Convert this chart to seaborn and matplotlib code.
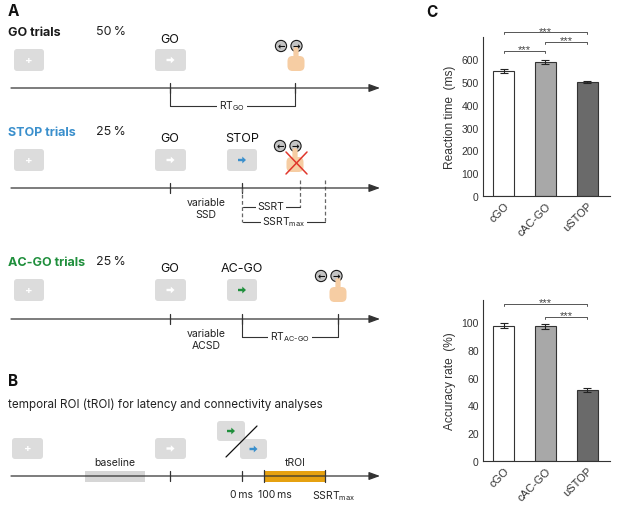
import matplotlib
matplotlib.use('Agg')
import matplotlib.pyplot as plt
import seaborn as sns
import numpy as np
import pandas as pd
from matplotlib.patches import FancyBboxPatch, Rectangle, Circle, Ellipse, Polygon

# ---------------- data ----------------
conditions = ['cGO', 'cAC-GO', 'uSTOP']
rt_mean = [550, 588, 500]
rt_sem = [8, 9, 6]
acc_mean = [97.5, 97.0, 51.0]
acc_sem = [1.6, 1.6, 1.6]
bar_colors = ['#ffffff', '#a8a8a8', '#6a6a6a']
rt_sig = [('cGO', 'cAC-GO', 636), ('cAC-GO', 'uSTOP', 676), ('cGO', 'uSTOP', 719)]
acc_sig = [('cAC-GO', 'uSTOP', 104), ('cGO', 'uSTOP', 113)]
trial_types = ['GO trials', 'STOP trials', 'AC-GO trials']
trial_pct = ['50\u2009%', '25\u2009%', '25\u2009%']
trial_colors = ['#1a1a1a', '#3a8fcc', '#1f8f3c']

sns.set_theme(style='white')
plt.rcParams['font.family'] = ['Inter', 'DejaVu Sans']
plt.rcParams['mathtext.fontset'] = 'custom'
plt.rcParams['mathtext.rm'] = 'Inter'
plt.rcParams['mathtext.it'] = 'Inter'

fig = plt.figure(figsize=(6.17, 5.06), dpi=100)

# ---------------- schematic (panels A, B) ----------------
sch = fig.add_axes([0, 0, 1, 1])
sch.set_xlim(0, 617)
sch.set_ylim(506, 0)
sch.axis('off')

LC = '#333333'
BOXC = '#dcdcdc'
BLUE = '#3a8fcc'
GREEN = '#1f8f3c'


def box(x0, x1, y0, y1, sym=None, color='white'):
    sch.add_patch(FancyBboxPatch((x0, y0), x1 - x0, y1 - y0,
                                 boxstyle='round,pad=0,rounding_size=3',
                                 fc=BOXC, ec='none', zorder=2))
    cx, cy = (x0 + x1) / 2, (y0 + y1) / 2
    if sym == '+':
        sch.text(cx, cy, '+', color='white', fontsize=8, ha='center', va='center',
                 fontweight='bold', zorder=3)
    elif sym == 'arrow':
        pts = [(cx - 4, cy - 1.2), (cx + 0.3, cy - 1.2), (cx + 0.3, cy - 3.4),
               (cx + 4, cy), (cx + 0.3, cy + 3.4), (cx + 0.3, cy + 1.2), (cx - 4, cy + 1.2)]
        sch.add_patch(Polygon(pts, closed=True, fc=color, ec='none', zorder=3))


def timeline(y):
    sch.annotate('', xy=(380, y), xytext=(11, y),
                 arrowprops=dict(arrowstyle='-|>,head_length=0.55,head_width=0.2',
                                 color=LC, lw=0.9, shrinkA=0, shrinkB=0))


def tick(x, y, half=5, dashed=False, y1=None):
    if dashed:
        sch.plot([x, x], [y - half, y1], color='#666666', lw=0.9, ls=(0, (3, 2)))
    else:
        sch.plot([x, x], [y - half, y + half], color=LC, lw=0.9)


def bracket(x0, x1, ytop, ybot, label, lx):
    sch.plot([x0, x0], [ytop, ybot], color=LC, lw=0.8)
    sch.plot([x1, x1], [ytop, ybot], color=LC, lw=0.8)
    sch.plot([x0, x1], [ybot, ybot], color=LC, lw=0.8)
    sch.text(lx, ybot - 0.5, label, fontsize=7.5, ha='center', va='center', color='#222',
             bbox=dict(fc='white', ec='none', pad=1.2), zorder=4)


def icons(x, y):
    for i, a in enumerate(['\u2190', '\u2192']):
        cx = x + i * 15.5
        sch.add_patch(Circle((cx, y), 5.6, fc='#c4c4c4', ec='#1a1a1a', lw=0.8, zorder=3))
        sch.text(cx, y, a, fontsize=6.5, ha='center', va='center', color='#111',
                 fontweight='bold', family=['DejaVu Sans'], zorder=4)


def hand(x, yb):
    skin = '#f6cda3'
    sch.add_patch(FancyBboxPatch((x - 2.6, yb - 24), 5.2, 14, boxstyle='round,pad=0,rounding_size=2.5',
                                 fc=skin, ec='none', zorder=3.5))
    sch.add_patch(FancyBboxPatch((x - 8.5, yb - 15), 17, 15, boxstyle='round,pad=0,rounding_size=5',
                                 fc=skin, ec='none', zorder=3.5))


# Panel A
sch.text(8, 11, 'A', fontsize=11, fontweight='bold', ha='left', va='center', color='#111')

rows = [
    dict(ty=33, ly=40, by=(50, 72), tl=89),
    dict(ty=133, ly=139, by=(150, 172), tl=189),
    dict(ty=263, ly=269, by=(280, 302), tl=320),
]
for i, r in enumerate(rows):
    sch.text(8, r['ty'], trial_types[i], fontsize=9, fontweight='bold', color=trial_colors[i],
             ha='left', va='center')
    sch.text(96, r['ty'] - 1, trial_pct[i], fontsize=9, color='#222', ha='left', va='center')
    sch.text(170, r['ly'], 'GO', fontsize=9, ha='center', va='center', color='#111')
    box(14, 44, r['by'][0], r['by'][1], '+')
    box(155, 186, r['by'][0], r['by'][1], 'arrow', 'white')
    timeline(r['tl'])
    tick(170, r['tl'])

# GO trial row
icons(281, 47)
hand(296, 72)
tick(295, 89)
bracket(170, 295, 89, 107, r'RT$_{\mathrm{GO}}$', 232)

# STOP trial row
sch.text(242, 139, 'STOP', fontsize=9, ha='center', va='center', color='#111')
box(227, 257, 150, 172, 'arrow', BLUE)
icons(280, 147)
hand(295, 173)
sch.plot([286, 307], [153, 175], color='#e0362c', lw=1.1, zorder=5)
sch.plot([286, 307], [175, 153], color='#e0362c', lw=1.1, zorder=5)
tick(242, 189)
tick(300, 189, 8, True, 208)
tick(325, 189, 8, True, 223)
sch.plot([242, 242], [189, 223], color='#666666', lw=0.9, ls=(0, (3, 2)))
sch.text(206, 209, 'variable\nSSD', fontsize=7.5, ha='center', va='center', color='#222',
         linespacing=1.25)
for x1, yb, lab, lx in [(300, 208, 'SSRT', 271), (325, 223, r'SSRT$_{\mathrm{max}}$', 284)]:
    sch.plot([243, x1], [yb, yb], color=LC, lw=0.8)
    sch.text(lx, yb - 0.5, lab, fontsize=7.5, ha='center', va='center', color='#222',
             bbox=dict(fc='white', ec='none', pad=1.2), zorder=4)

# AC-GO trial row
sch.text(242, 269, 'AC-GO', fontsize=9, ha='center', va='center', color='#111')
box(227, 257, 280, 302, 'arrow', GREEN)
icons(321, 277)
hand(338, 303)
tick(242, 320)
tick(338, 320)
sch.text(206, 340, 'variable\nACSD', fontsize=7.5, ha='center', va='center', color='#222',
         linespacing=1.25)
bracket(242, 338, 320, 338, r'RT$_{\mathrm{AC\text{-}GO}}$', 290)

# Panel B
sch.text(8, 381, 'B', fontsize=11, fontweight='bold', ha='left', va='center', color='#111')
sch.text(8, 405, 'temporal ROI (tROI) for latency and connectivity analyses', fontsize=8.4,
         ha='left', va='center', color='#222')
box(12, 43, 439, 460, '+')
box(155, 186, 439, 460, 'arrow', 'white')
box(217, 245, 422, 442, 'arrow', GREEN)
box(240, 267, 440, 460, 'arrow', BLUE)
sch.plot([226, 257], [458, 427], color='#111', lw=0.9, zorder=5)
sch.add_patch(Rectangle((85, 472), 60, 11, fc='#d6d6d6', ec='none', zorder=1))
sch.text(115, 463, 'baseline', fontsize=7.5, ha='center', va='center', color='#222')
timeline(477)
tick(170, 477)
tick(242, 477)
sch.add_patch(Rectangle((264, 472), 61, 11, fc='#e6a110', ec='none', zorder=1))
tick(264, 477, 6)
tick(325, 477, 6)
sch.text(295, 463, 'tROI', fontsize=7.5, ha='center', va='center', color='#222')
sch.text(242, 495, '0\u2009ms', fontsize=7.5, ha='center', va='center', color='#222')
sch.text(275, 495, '100\u2009ms', fontsize=7.5, ha='center', va='center', color='#222')
sch.text(334, 496, r'SSRT$_{\mathrm{max}}$', fontsize=7.5, ha='center', va='center', color='#222')

# Panel C label
sch.text(426, 12, 'C', fontsize=11, fontweight='bold', ha='left', va='center', color='#111')

# ---------------- bar charts (panel C) ----------------
CFONT = ['Liberation Sans', 'DejaVu Sans']


def bar_panel(rect, means, sems, ylim, ticks, ylabel, sigs):
    ax = fig.add_axes(rect)
    df = pd.DataFrame({'cond': conditions, 'val': means})
    sns.barplot(data=df, x='cond', y='val', hue='cond', palette=bar_colors, legend=False,
                edgecolor='#333333', linewidth=0.8, width=0.5, ax=ax)
    ax.errorbar(np.arange(len(conditions)), means, yerr=sems, fmt='none', ecolor='#222',
                elinewidth=0.8, capsize=3, capthick=0.8)
    ax.set_xlim(-0.5, 2.55)
    ax.set_ylim(*ylim)
    ax.set_yticks(ticks)
    ax.set_yticklabels([str(t) for t in ticks], family=CFONT, fontsize=7.5, color='#333')
    ax.set_xticks(range(len(conditions)))
    ax.set_xticklabels(conditions, rotation=45, ha='right', rotation_mode='anchor',
                       family=CFONT, fontsize=8, color='#333')
    ax.set_xlabel('')
    ax.set_ylabel(ylabel, family=CFONT, fontsize=8.6, color='#333', labelpad=4)
    sns.despine(ax=ax)
    for s in ['left', 'bottom']:
        ax.spines[s].set_color('#333')
        ax.spines[s].set_linewidth(0.8)
    ax.tick_params(axis='y', length=0, pad=3)
    ax.tick_params(axis='x', length=0, pad=3)
    span = ylim[1] - ylim[0]
    for a, b, y in sigs:
        xa, xb = conditions.index(a), conditions.index(b)
        d = span * 0.012
        ax.plot([xa, xa, xb, xb], [y - d, y, y, y - d], color='#555', lw=0.7, clip_on=False)
        ax.annotate('***', xy=((xa + xb) / 2, y), xytext=(0, -1.0), textcoords='offset points',
                    ha='center', va='baseline', fontsize=8, color='#444', family=CFONT,
                    annotation_clip=False)
    return ax


bar_panel([483 / 617, 1 - 197 / 506, 127 / 617, 159 / 506], rt_mean, rt_sem, (0, 698),
          [0, 100, 200, 300, 400, 500, 600], 'Reaction time  (ms)', rt_sig)
bar_panel([483 / 617, 1 - 462 / 506, 127 / 617, 161 / 506], acc_mean, acc_sem, (0, 116),
          [0, 20, 40, 60, 80, 100], 'Accuracy rate  (%)', acc_sig)

fig.savefig('out.png', dpi=100)
